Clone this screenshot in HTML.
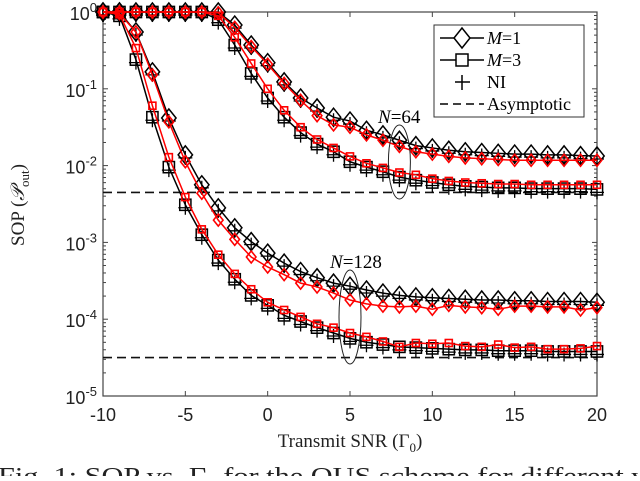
<!DOCTYPE html>
<html><head><meta charset="utf-8"><style>
body{margin:0;background:#fff;width:640px;height:476px;overflow:hidden}
svg{font-family:"Liberation Sans",sans-serif}
.serif{font-family:"Liberation Serif",serif}
</style></head><body>
<svg id="chart" width="640" height="476">
</svg>
<script>
const xs=[-10,-9,-8,-7,-6,-5,-4,-3,-2,-1,0,1,2,3,4,5,6,7,8,9,10,11,12,13,14,15,16,17,18,19,20];
const n64m1=[0,0,0,0,0,0,0,0,-0.17,-0.43,-0.66,-0.91,-1.12,-1.25,-1.37,-1.42,-1.54,-1.6,-1.67,-1.74,-1.77,-1.8,-1.82,-1.83,-1.84,-1.85,-1.85,-1.86,-1.86,-1.87,-1.875];
const n64m1red=[0,0,0,0,0,0,0,-0.01,-0.2,-0.45,-0.68,-0.93,-1.15,-1.35,-1.47,-1.5,-1.6,-1.67,-1.75,-1.82,-1.85,-1.88,-1.9,-1.91,-1.92,-1.93,-1.93,-1.93,-1.93,-1.93,-1.93];
const n64m3=[0,0,0,0,0,0,0,-0.1,-0.43,-0.8,-1.12,-1.37,-1.57,-1.72,-1.82,-1.95,-2.02,-2.08,-2.15,-2.19,-2.22,-2.25,-2.27,-2.28,-2.29,-2.29,-2.3,-2.3,-2.3,-2.3,-2.31];
const n64m3red=[0,0,0,0,0,0,0,-0.05,-0.33,-0.67,-1.0,-1.28,-1.5,-1.66,-1.77,-1.88,-1.97,-2.03,-2.09,-2.12,-2.17,-2.2,-2.22,-2.23,-2.24,-2.24,-2.25,-2.25,-2.25,-2.25,-2.25];
const n128m1=[0,0,-0.26,-0.78,-1.38,-1.86,-2.25,-2.55,-2.81,-2.99,-3.14,-3.27,-3.38,-3.46,-3.53,-3.57,-3.62,-3.66,-3.69,-3.71,-3.72,-3.73,-3.74,-3.75,-3.75,-3.76,-3.76,-3.77,-3.77,-3.77,-3.78];
const n128m1red=[0,-0.02,-0.26,-0.82,-1.43,-1.95,-2.36,-2.71,-2.96,-3.19,-3.32,-3.42,-3.53,-3.58,-3.66,-3.75,-3.8,-3.83,-3.84,-3.83,-3.87,-3.82,-3.84,-3.85,-3.87,-3.83,-3.83,-3.84,-3.84,-3.88,-3.85];
const n128m3=[0,-0.05,-0.62,-1.37,-2.02,-2.51,-2.9,-3.23,-3.48,-3.69,-3.82,-3.95,-4.03,-4.11,-4.18,-4.25,-4.3,-4.33,-4.36,-4.37,-4.38,-4.39,-4.4,-4.4,-4.41,-4.41,-4.41,-4.42,-4.42,-4.42,-4.42];
const n128m3red=[0,-0.03,-0.47,-1.22,-1.89,-2.41,-2.83,-3.16,-3.41,-3.61,-3.78,-3.88,-3.97,-4.06,-4.11,-4.18,-4.23,-4.29,-4.36,-4.31,-4.32,-4.31,-4.35,-4.36,-4.33,-4.37,-4.36,-4.39,-4.39,-4.38,-4.35];
const asym=[-2.35,-4.5];
const xTicks=[-10,-5,0,5,10,15,20];
const yTicks=[0,-1,-2,-3,-4,-5];
const X0=103,X1=597,Y0=12,Y1=396;
const sx=v=>X0+(v+10)/30*(X1-X0);
const sy=l=>Y0+(-l)/5*(Y1-Y0);
const svg=document.getElementById('chart');
const NS='http://www.w3.org/2000/svg';
function mk(t,a,p){const e=document.createElementNS(NS,t);for(const k in a)e.setAttribute(k,a[k]);(p||svg).appendChild(e);return e;}
const ax=mk('rect',{x:X0,y:Y0,width:X1-X0,height:Y1-Y0,fill:'none',stroke:'#444','stroke-width':1.2});


xTicks.forEach(t=>{
  mk('line',{x1:sx(t),x2:sx(t),y1:Y1,y2:Y1-5,stroke:'#444'});
  mk('line',{x1:sx(t),x2:sx(t),y1:Y0,y2:Y0+5,stroke:'#444'});
  const tx=mk('text',{x:sx(t),y:Y1+25,'text-anchor':'middle','font-size':18,fill:'#222'});
  tx.textContent=t;
  
  
});
yTicks.forEach(t=>{
  const y=sy(t);
  mk('line',{x1:X0,x2:X0+5,y1:y,y2:y,stroke:'#444'});
  mk('line',{x1:X1,x2:X1-5,y1:y,y2:y,stroke:'#444'});
  if(t>-5){for(let m=2;m<10;m++){const yy=sy(t-1+Math.log10(m));
    mk('line',{x1:X0,x2:X0+3,y1:yy,y2:yy,stroke:'#444'});mk('line',{x1:X1,x2:X1-3,y1:yy,y2:yy,stroke:'#444'});}}
  const tx=mk('text',{x:X0-6,y:y+8,'text-anchor':'end','font-size':18,fill:'#222'});
  tx.innerHTML='10<tspan dy="-8" font-size="13">'+t+'</tspan>';
  
  
});
asym.forEach(a=>{
  const l=mk('line',{x1:X0,x2:X1,y1:sy(a),y2:sy(a),stroke:'#111','stroke-width':1.6,'stroke-dasharray':'9,5'});
  
  
});
function marker(g,type,x,y,s,col,sw){
  if(type==='d')mk('polygon',{points:`${x},${y-s} ${x+s*0.8},${y} ${x},${y+s} ${x-s*0.8},${y}`,fill:'none',stroke:col,'stroke-width':sw},g);
  else mk('rect',{x:x-s*0.7,y:y-s*0.7,width:s*1.4,height:s*1.4,fill:'none',stroke:col,'stroke-width':sw},g);
}
function series(arr,type,col,name,big){
  const g=mk('g',{});
  
  
  mk('polyline',{points:arr.map((v,i)=>sx(xs[i])+','+sy(v)).join(' '),fill:'none',stroke:col,'stroke-width':1.5},g);
  arr.forEach((v,i)=>{
    const x=sx(xs[i]),y=sy(v);
    if(big){marker(g,type,x,y,type==='d'?9:8,col,1.5);
      mk('path',{d:`M${x-7},${y+3}h14M${x},${y-4}v14`,stroke:col,'stroke-width':1.3},g);}
    else marker(g,type,x,y,type==='d'?6:5,col,1.6);
  });
}
series(n64m1,'d','#000','n64-m1-series',true);
series(n64m3,'s','#000','n64-m3-series',true);
series(n128m1,'d','#000','n128-m1-series',true);
series(n128m3,'s','#000','n128-m3-series',true);
series(n64m1red,'d','#f00','n64-m1-sim-series',false);
series(n64m3red,'s','#f00','n64-m3-sim-series',false);
series(n128m1red,'d','#f00','n128-m1-sim-series',false);
series(n128m3red,'s','#f00','n128-m3-sim-series',false);
const e1=mk('ellipse',{cx:sx(8),cy:162,rx:11,ry:37,fill:'none',stroke:'#222','stroke-width':1});


const e2=mk('ellipse',{cx:sx(5),cy:317,rx:11,ry:47,fill:'none',stroke:'#222','stroke-width':1});


</script>
<svg width="640" height="476" style="position:absolute;left:0;top:0">
<text class="serif" x="378" y="123" font-size="19"><tspan font-style="italic">N</tspan>=64</text>
<text class="serif" x="330" y="268" font-size="19"><tspan font-style="italic">N</tspan>=128</text>
<g>
<rect x="434" y="25" width="150" height="92" fill="#fff" stroke="#333" stroke-width="1"/>
<line x1="440" x2="484" y1="38" y2="38" stroke="#000" stroke-width="1.5"/>
<polygon points="462,28 470,38 462,48 454,38" fill="#fff" stroke="#000" stroke-width="1.5"/>
<line x1="440" x2="484" y1="60" y2="60" stroke="#000" stroke-width="1.5"/>
<rect x="456" y="54" width="12" height="12" fill="#fff" stroke="#000" stroke-width="1.5"/>
<path d="M455,82h15M462,75v15" stroke="#000" stroke-width="1.5"/>
<line x1="440" x2="484" y1="104" y2="104" stroke="#000" stroke-width="1.5" stroke-dasharray="8,5"/>
<text class="serif" x="487" y="44" font-size="18"><tspan font-style="italic">M</tspan>=1</text>
<text class="serif" x="487" y="66" font-size="18"><tspan font-style="italic">M</tspan>=3</text>
<text class="serif" x="487" y="88" font-size="18">NI</text>
<text class="serif" x="487" y="110" font-size="18">Asymptotic</text>
</g>
<text class="serif" x="350" y="447" font-size="19" text-anchor="middle" fill="#222">Transmit SNR (Γ<tspan dy="5" font-size="13">0</tspan><tspan dy="-5">)</tspan></text>
<text class="serif" transform="translate(24,205) rotate(-90)" font-size="19" text-anchor="middle" fill="#222">SOP (<tspan font-style="italic">𝒫</tspan><tspan dy="5" font-size="13">out</tspan><tspan dy="-5">)</tspan></text>
<text class="serif" x="-2" y="484" font-size="24" fill="#222" textLength="662" lengthAdjust="spacingAndGlyphs">Fig. 1: SOP vs. Γ<tspan dy="5" font-size="15">0</tspan><tspan dy="-5"> for the OUS scheme for different va</tspan></text>
</svg>
</body></html>
